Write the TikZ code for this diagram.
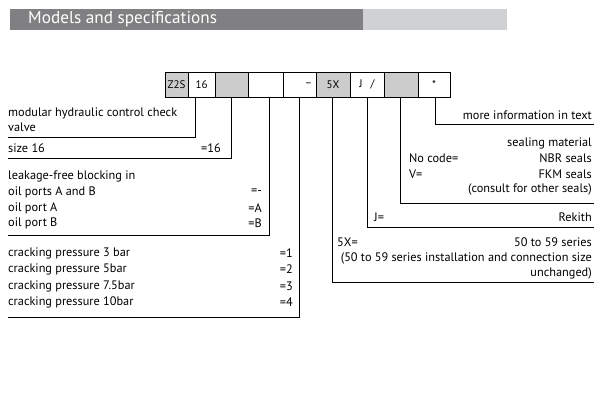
\documentclass[tikz,border=0pt]{standalone}
\usepackage{fontspec}
\setmainfont{PT Sans}
\definecolor{hdrdark}{RGB}{128,128,130}
\definecolor{hdrlight}{RGB}{208,209,211}
\definecolor{cellgray}{RGB}{204,204,204}
\tikzset{
cell/.style={draw, minimum height=25pt, inner sep=0pt, font=\fontsize{11}{12}\selectfont},
txt/.style={inner sep=0pt, font=\fontsize{12.3}{14}\selectfont},
lead/.style={line width=0.6pt}
}
\begin{document}
\begin{tikzpicture}[x=1pt,y=-1pt]
    \useasboundingbox (0,0) rectangle (612,407);
    % header bar
    \fill[hdrdark] (10,9) rectangle (363,30);
    \fill[hdrlight] (363,9) rectangle (507,30);
    \node[anchor=west, text=white, inner sep=0pt, font=\fontsize{17.2}{19}\selectfont] (title) at (28,19.5) {Models and specifications};

    % type code cells
    \node[cell, fill=cellgray, minimum width=23pt] (z2s) at (176.5,84.5) {Z2S};
    \node[cell, minimum width=27pt] (size) at (201.5,84.5) {16};
    \node[cell, fill=cellgray, minimum width=33pt] (block) at (231.5,84.5) {};
    \node[cell, minimum width=35pt] (crack) at (265.5,84.5) {};
    \node[cell, minimum width=33pt] (dash) at (299.5,84.5) {\hspace*{18pt}--};
    \node[cell, fill=cellgray, minimum width=34pt] (series) at (333,84.5) {5X};
    \node[cell, minimum width=34pt] (maker) at (367,84.5) {J\hspace{8pt}/};
    \node[cell, fill=cellgray, minimum width=34pt] (seal) at (401,84.5) {};
    \node[cell, minimum width=32pt] (more) at (434,84.5) {*};

    % left texts
    \node[txt, anchor=west] (tvalve) at (8,113) {modular hydraulic control check};
    \node[txt, anchor=west] (tvalveb) at (8,127) {valve};
    \node[txt, anchor=west] (tsize) at (8,148) {size 16};
    \node[txt, anchor=east] (esize) at (221,148) {=16};
    \node[txt, anchor=west] (tblock) at (8,176) {leakage-free blocking in};
    \node[txt, anchor=west] (tblockab) at (8,192) {oil ports A and B};
    \node[txt, anchor=west] (tblocka) at (8,208) {oil port A};
    \node[txt, anchor=west] (tblockb) at (8,223) {oil port B};
    \node[txt, anchor=east] (eblockab) at (262,192) {=-};
    \node[txt, anchor=east] (eblocka) at (262,208) {=A};
    \node[txt, anchor=east] (eblockb) at (262,223) {=B};
    \node[txt, anchor=west] (tcrack1) at (8,253) {cracking pressure 3 bar};
    \node[txt, anchor=west] (tcrack2) at (8,269) {cracking pressure 5bar};
    \node[txt, anchor=west] (tcrack3) at (8,286) {cracking pressure 7.5bar};
    \node[txt, anchor=west] (tcrack4) at (8,302) {cracking pressure 10bar};
    \node[txt, anchor=east] (ecrack1) at (293,253) {=1};
    \node[txt, anchor=east] (ecrack2) at (293,269) {=2};
    \node[txt, anchor=east] (ecrack3) at (293,286) {=3};
    \node[txt, anchor=east] (ecrack4) at (293,302) {=4};

    % right texts
    \node[txt, anchor=east] (tmore) at (592,115) {more information in text};
    \node[txt, anchor=east] (tseal) at (592,143) {sealing material};
    \node[txt, anchor=east] (tnbr) at (592,158) {NBR seals};
    \node[txt, anchor=east] (tfkm) at (592,174) {FKM seals};
    \node[txt, anchor=east] (tother) at (592,189) {(consult for other seals)};
    \node[txt, anchor=west] (enbr) at (409,158) {No code=};
    \node[txt, anchor=west] (efkm) at (409,174) {V=};
    \node[txt, anchor=west] (emaker) at (374,217) {J=};
    \node[txt, anchor=east] (tmaker) at (592,217) {Rekith};
    \node[txt, anchor=west] (eseries) at (337,242) {5X=};
    \node[txt, anchor=east] (tseries) at (592,242) {50 to 59 series};
    \node[txt, anchor=east] (tseriesb) at (592,258) {(50 to 59 series installation and connection size};
    \node[txt, anchor=east] (tseriesc) at (592,273) {unchanged)};

    % leader lines
    \draw[lead] (195,97) |- (8,137);
    \draw[lead] (231,97) |- (8,158);
    \draw[lead] (269,97) |- (8,235);
    \draw[lead] (299,97) |- (8,317);
    \draw[lead] (332,97) |- (594,282);
    \draw[lead] (367,97) |- (594,227);
    \draw[lead] (400,97) |- (594,203);
    \draw[lead] (435,97) |- (594,124);
\end{tikzpicture}
\end{document}
